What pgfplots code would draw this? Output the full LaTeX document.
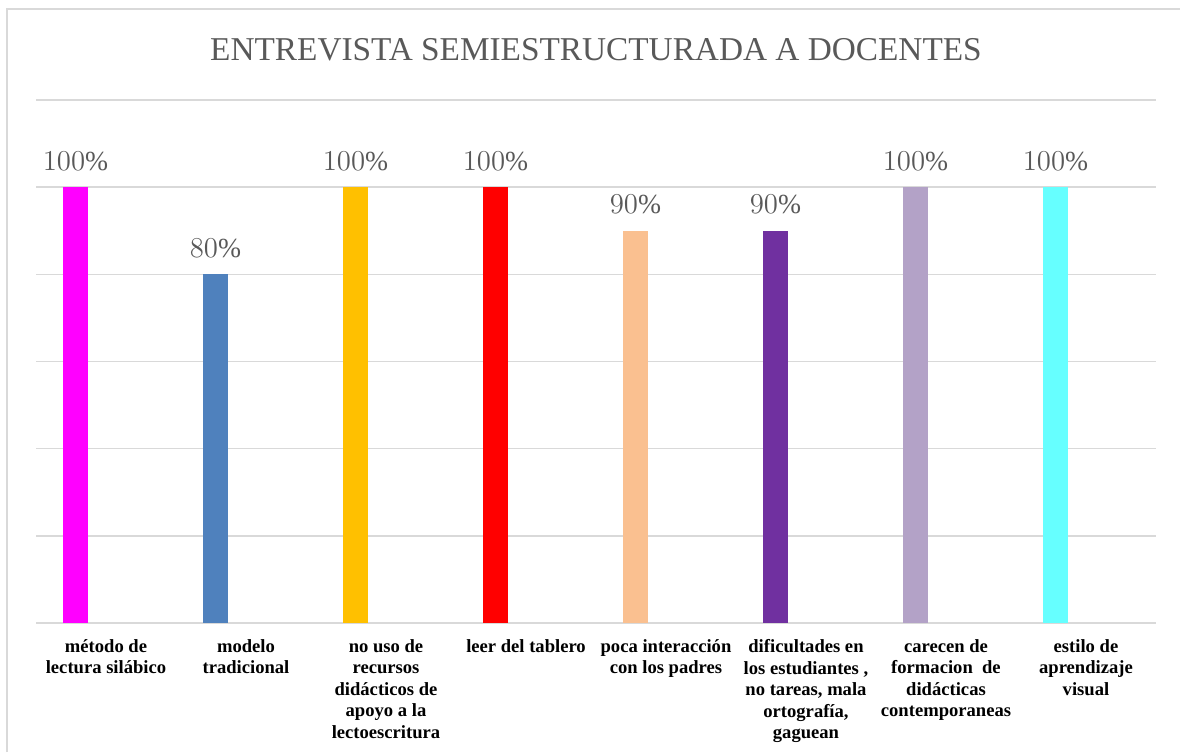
\documentclass[border=0pt]{standalone}
\usepackage{pgfplots}
\pgfplotsset{compat=1.18}
\usepackage{fontspec}
\setmainfont{Liberation Serif}
\definecolor{txtgray}{HTML}{595959}
\definecolor{gridgray}{HTML}{D9D9D9}
\definecolor{c1}{HTML}{FF00FF}
\definecolor{c2}{HTML}{4F81BD}
\definecolor{c3}{HTML}{FFC000}
\definecolor{c4}{HTML}{FF0000}
\definecolor{c5}{HTML}{FAC090}
\definecolor{c6}{HTML}{7030A0}
\definecolor{c7}{HTML}{B3A2C7}
\definecolor{c8}{HTML}{66FFFF}
\begin{document}
\begin{tikzpicture}
\useasboundingbox (0,0) rectangle (590pt,376pt);
\draw[gridgray, line width=0.8pt] (3.5pt,0) -- (3.5pt,371.5pt) -- (590pt,371.5pt);
\node[txtgray, font=\fontsize{16.65}{19}\selectfont] at (298pt,351pt) {ENTREVISTA SEMIESTRUCTURADA A DOCENTES};
\begin{axis}[
  at={(18pt,64.5pt)}, anchor=south west,
  scale only axis, width=560pt, height=261.5pt,
  xmin=-0.5, xmax=7.5, ymin=0, ymax=120,
  ybar, bar width=12.5pt, bar shift=0pt,
  axis line style={draw=none},
  major tick length=0pt,
  ytick={0,20,...,120}, yticklabels={},
  ymajorgrids, grid style={gridgray, line width=0.8pt},
  xtick={0,...,7},
  xticklabels={{método de\\lectura silábico},{modelo\\tradicional},{no uso de\\recursos\\didácticos de\\apoyo a la\\lectoescritura},{leer del tablero},{poca interacción\\con los padres},{dificultades en\\los estudiantes ,\\no tareas, mala\\ortografía,\\gaguean},{carecen de\\formacion\ \ de\\didácticas\\contemporaneas},{estilo de\\aprendizaje\\visual}},
  xticklabel style={align=center, font=\bfseries\fontsize{9.3}{10.75}\selectfont, text=black, anchor=north, inner sep=0pt, yshift=-8pt},
  nodes near coords={\pgfmathprintnumber{\pgfplotspointmeta}\%},
  nodes near coords style={font=\fontsize{13.8}{16}\selectfont, text=txtgray, anchor=south, inner sep=0pt, yshift=8pt},
  clip=false,
]
\addplot[fill=c1, draw=none] coordinates {(-0.218,100)};
\addplot[fill=c2, draw=none] coordinates {(0.782,80)};
\addplot[fill=c3, draw=none] coordinates {(1.782,100)};
\addplot[fill=c4, draw=none] coordinates {(2.782,100)};
\addplot[fill=c5, draw=none] coordinates {(3.782,90)};
\addplot[fill=c6, draw=none] coordinates {(4.782,90)};
\addplot[fill=c7, draw=none] coordinates {(5.782,100)};
\addplot[fill=c8, draw=none] coordinates {(6.782,100)};
\end{axis}
\end{tikzpicture}
\end{document}
